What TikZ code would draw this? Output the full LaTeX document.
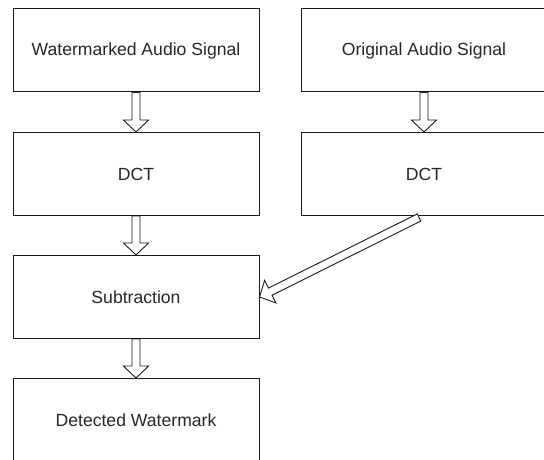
\documentclass[tikz,border=0pt]{standalone}
\usepackage{fontspec}
\setmainfont{Liberation Sans}
\usetikzlibrary{calc}
\tikzset{
  stagebox/.style={draw=black!90, line width=1pt, minimum width=246pt, minimum height=83pt,
    inner sep=0pt, font=\fontsize{17.6}{20}\selectfont, text=black!85},
  % hollow block arrow drawn from the start point to the tip
  blockarrow/.style={draw=black!90, line width=0.9pt, fill=white, line join=miter,
    to path={
      ($(\tikztostart)!4pt!90:(\tikztotarget)$) --
      ($($(\tikztotarget)!12pt!(\tikztostart)$)!4pt!-90:(\tikztostart)$) --
      ($($(\tikztotarget)!12pt!(\tikztostart)$)!12.6pt!-90:(\tikztostart)$) --
      (\tikztotarget) --
      ($($(\tikztotarget)!12pt!(\tikztostart)$)!12.6pt!90:(\tikztostart)$) --
      ($($(\tikztotarget)!12pt!(\tikztostart)$)!4pt!90:(\tikztostart)$) --
      ($(\tikztostart)!4pt!-90:(\tikztotarget)$) -- cycle
    }}
}
\begin{document}
\begin{tikzpicture}[x=1pt, y=-1pt]
  \useasboundingbox (0,0) rectangle (544,460);

  \node[stagebox] (wm)   at (136,50.5)  {Watermarked Audio Signal};
  \node[stagebox] (orig) at (424,50.5)  {Original Audio Signal};
  \node[stagebox] (dctl) at (136,174)   {DCT};
  \node[stagebox] (dctr) at (424,174)   {DCT};
  \node[stagebox] (sub)  at (136,297)   {Subtraction};
  \node[stagebox] (det)  at (136,420)   {Detected Watermark};

  \coordinate (dstart) at ($(dctr.south)+(-5,1.5)$);

  \path[blockarrow] (wm.south)   to (dctl.north);
  \path[blockarrow] (orig.south) to (dctr.north);
  \path[blockarrow] (dctl.south) to (sub.north);
  \path[blockarrow] (sub.south)  to (det.north);
  \path[blockarrow] (dstart)     to (sub.east);
\end{tikzpicture}
\end{document}
